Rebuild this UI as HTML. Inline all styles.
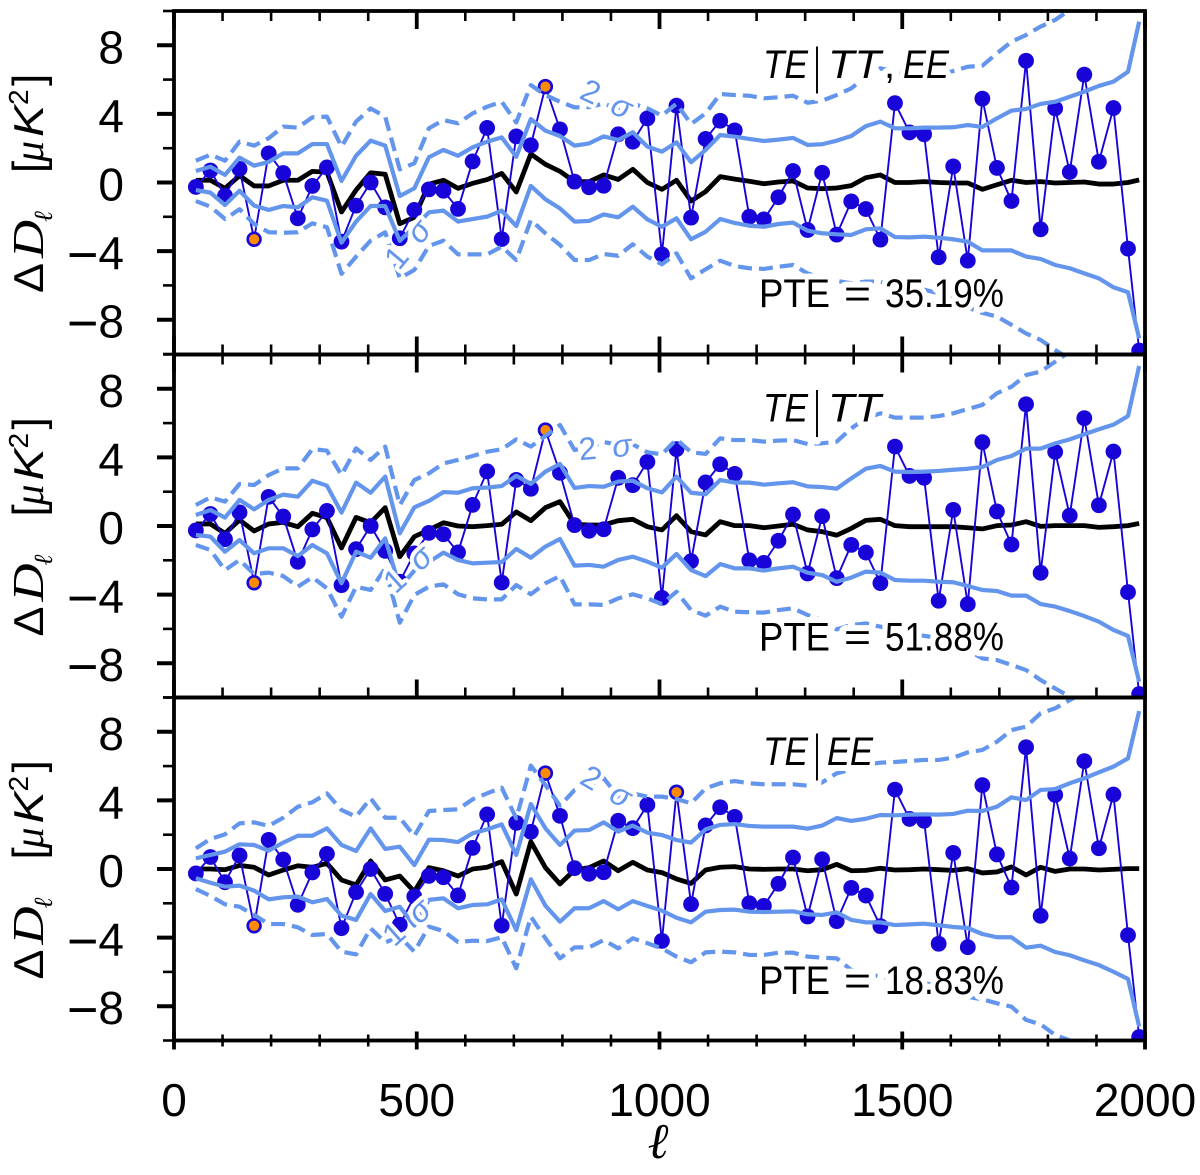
<!DOCTYPE html>
<html lang="en">
<head>
<meta charset="utf-8">
<title>TE residuals</title>
<style>
html,body{margin:0;padding:0;background:#fff;}
svg{display:block;}
text{font-family:"Liberation Sans","DejaVu Sans",sans-serif;fill:#000;}
.tick{font-size:46px;}
.note{font-size:40px;paint-order:stroke;stroke:#fff;stroke-width:12px;stroke-linejoin:round;}
.it{font-style:italic;}
.sig{font-size:32px;fill:#6495ed;paint-order:stroke;stroke:#fff;stroke-width:8px;stroke-linejoin:round;}
.yt{font-size:42px;}
.br{font-size:44px;}
.serif{font-family:"Liberation Serif","DejaVu Serif",serif;font-style:italic;}
</style>
</head>
<body>
<svg id="chart" xmlns="http://www.w3.org/2000/svg" width="1200" height="1175" viewBox="0 0 1200 1175">
<rect x="0" y="0" width="1200" height="1175" fill="#fff"/>
<defs>
<clipPath id="clip0"><rect x="174" y="11" width="971" height="343"/></clipPath>
<clipPath id="clip1"><rect x="174" y="354.5" width="971" height="343"/></clipPath>
<clipPath id="clip2"><rect x="174" y="697.5" width="971" height="343"/></clipPath>
</defs>
<g id="marks"></g>
<g id="annotations">
  <g>
    <text class="note it" x="763" y="78" textLength="45" lengthAdjust="spacingAndGlyphs">TE</text>
    <text class="note" x="817" y="82" text-anchor="middle" transform="translate(817 78) scale(0.6 1.25) translate(-817 -78)">|</text>
    <text class="note it" x="828" y="78" textLength="53" lengthAdjust="spacingAndGlyphs">TT</text>
    <text class="note" x="884" y="78">,</text>
    <text class="note it" x="903" y="78" textLength="46" lengthAdjust="spacingAndGlyphs">EE</text>
  </g>
  <g>
    <text class="note it" x="763" y="421.5" textLength="45" lengthAdjust="spacingAndGlyphs">TE</text>
    <text class="note" x="817" y="425.5" text-anchor="middle" transform="translate(817 421.5) scale(0.6 1.25) translate(-817 -421.5)">|</text>
    <text class="note it" x="828" y="421.5" textLength="53" lengthAdjust="spacingAndGlyphs">TT</text>
  </g>
  <g>
    <text class="note it" x="763" y="765" textLength="45" lengthAdjust="spacingAndGlyphs">TE</text>
    <text class="note" x="817" y="769" text-anchor="middle" transform="translate(817 765) scale(0.6 1.25) translate(-817 -765)">|</text>
    <text class="note it" x="827" y="765" textLength="46" lengthAdjust="spacingAndGlyphs">EE</text>
  </g>
  <g>
    <text class="note" x="759" y="307" textLength="71" lengthAdjust="spacingAndGlyphs">PTE</text>
    <text class="note" x="844" y="307" textLength="27" lengthAdjust="spacingAndGlyphs">=</text>
    <text class="note" x="885" y="307" textLength="119" lengthAdjust="spacingAndGlyphs">35.19%</text>
  </g>
  <g>
    <text class="note" x="759" y="650.5" textLength="71" lengthAdjust="spacingAndGlyphs">PTE</text>
    <text class="note" x="844" y="650.5" textLength="27" lengthAdjust="spacingAndGlyphs">=</text>
    <text class="note" x="885" y="650.5" textLength="119" lengthAdjust="spacingAndGlyphs">51.88%</text>
  </g>
  <g>
    <text class="note" x="759" y="994" textLength="71" lengthAdjust="spacingAndGlyphs">PTE</text>
    <text class="note" x="844" y="994" textLength="27" lengthAdjust="spacingAndGlyphs">=</text>
    <text class="note" x="885" y="994" textLength="119" lengthAdjust="spacingAndGlyphs">18.83%</text>
  </g>
  <text class="sig" text-anchor="middle" transform="translate(416 251) rotate(-50)">1 <tspan class="it" dx="7">σ</tspan></text>
  <text class="sig" text-anchor="middle" transform="translate(415 577) rotate(-42)">1 <tspan class="it" dx="7">σ</tspan></text>
  <text class="sig" text-anchor="middle" transform="translate(414 930) rotate(-42)">1 <tspan class="it" dx="7">σ</tspan></text>
  <text class="sig" text-anchor="middle" transform="translate(602 109) rotate(25)">2 <tspan class="it" dx="7">σ</tspan></text>
  <text class="sig" text-anchor="middle" transform="translate(606 458) rotate(-5)">2 <tspan class="it" dx="7">σ</tspan></text>
  <text class="sig" text-anchor="middle" transform="translate(601 796) rotate(30)">2 <tspan class="it" dx="7">σ</tspan></text>
</g>
<g id="axes"></g>
<g transform="translate(43 293) rotate(-90)">
  <text class="yt" x="0" y="0" textLength="30" lengthAdjust="spacingAndGlyphs">Δ</text>
  <text class="serif" x="35" y="0" font-size="44" textLength="38" lengthAdjust="spacingAndGlyphs">D</text>
  <text class="serif" x="71" y="9" font-size="26">ℓ</text>
  <text class="br" x="120" y="0">[</text>
  <text class="serif" x="131" y="0" font-size="42">μ</text>
  <text class="yt it" x="156" y="0" textLength="32" lengthAdjust="spacingAndGlyphs">K</text>
  <text x="188" y="-15" font-size="28">2</text>
  <text class="br" x="207" y="0">]</text>
</g>
<g transform="translate(43 636.5) rotate(-90)">
  <text class="yt" x="0" y="0" textLength="30" lengthAdjust="spacingAndGlyphs">Δ</text>
  <text class="serif" x="35" y="0" font-size="44" textLength="38" lengthAdjust="spacingAndGlyphs">D</text>
  <text class="serif" x="71" y="9" font-size="26">ℓ</text>
  <text class="br" x="120" y="0">[</text>
  <text class="serif" x="131" y="0" font-size="42">μ</text>
  <text class="yt it" x="156" y="0" textLength="32" lengthAdjust="spacingAndGlyphs">K</text>
  <text x="188" y="-15" font-size="28">2</text>
  <text class="br" x="207" y="0">]</text>
</g>
<g transform="translate(43 979.5) rotate(-90)">
  <text class="yt" x="0" y="0" textLength="30" lengthAdjust="spacingAndGlyphs">Δ</text>
  <text class="serif" x="35" y="0" font-size="44" textLength="38" lengthAdjust="spacingAndGlyphs">D</text>
  <text class="serif" x="71" y="9" font-size="26">ℓ</text>
  <text class="br" x="120" y="0">[</text>
  <text class="serif" x="131" y="0" font-size="42">μ</text>
  <text class="yt it" x="156" y="0" textLength="32" lengthAdjust="spacingAndGlyphs">K</text>
  <text x="188" y="-15" font-size="28">2</text>
  <text class="br" x="207" y="0">]</text>
</g>
<text class="serif" x="658" y="1158" font-size="50" text-anchor="middle">ℓ</text>
</svg>
<script>
const ell = [45,75,105,135,165,195,225,255,285,315,345,375,405,435,465,495,525,555,585,615,645,675,705,735,765,795,825,855,885,915,945,975,1005,1035,1065,1095,1125,1155,1185,1215,1245,1275,1305,1335,1365,1395,1425,1455,1485,1515,1545,1575,1605,1635,1665,1695,1725,1755,1785,1815,1845,1875,1905,1935,1965,1988];
const residuals = [-0.26,0.7,-0.77,0.79,-3.31,1.7,0.55,-2.09,-0.2,0.88,-3.45,-1.35,0,-1.45,-3.25,-1.6,-0.4,-0.48,-1.54,1.23,3.18,-3.3,2.69,2.17,5.59,3.1,0.05,-0.28,-0.19,2.81,2.38,3.74,-4.19,4.48,-2.05,2.54,3.6,3.04,-2,-2.15,-0.86,0.67,-2.77,0.57,-3.04,-1.1,-1.55,-3.33,4.63,2.92,2.81,-4.36,0.94,-4.56,4.89,0.85,-1.08,7.1,-2.73,4.32,0.61,6.29,1.21,4.34,-3.86,-9.8];

const panel1Mean = [0.13,0.13,-0.34,0.4,-0.2,-0.2,0.13,0.13,0.65,0.6,-1.72,-0.44,0.57,0.48,-2.4,-2.03,-0.1,0.13,-0.34,-0.05,0.17,0.53,-0.55,1.66,1.06,0.65,0.05,0.05,0.44,0.18,0.77,0,-0.4,0.13,-1.08,-0.53,0.34,0.2,0.07,-0.07,0.03,0.09,-0.32,-0.36,-0.32,-0.18,0.28,0.44,0,0,0.05,0,-0.03,-0.03,-0.4,-0.13,0.13,0,0.05,-0.03,0,0.03,-0.09,-0.09,0,0.15];
const panel1Upper1 = [0.67,0.92,0.44,1.45,0.98,1.2,1.7,1.7,2.24,2.24,0.09,1.56,2.44,2.15,-0.79,-0.34,1.47,1.9,1.56,2.05,2.38,2.63,1.5,3.7,3.02,2.71,2.15,2.28,2.69,2.48,2.93,2.09,1.8,2.34,1.18,1.9,2.77,2.67,2.54,2.42,2.5,2.6,2.19,2.23,2.44,2.71,3.29,3.55,3.16,3.16,3.2,3.2,3.22,3.35,3.24,3.74,4.19,4.29,4.58,4.71,5,5.3,5.63,5.88,6.46,9.38];
const panel1Lower1 = [-0.44,-0.59,-1.31,-0.48,-1.35,-1.6,-1.37,-1.45,-0.86,-1.06,-3.51,-2.28,-1.37,-1.37,-3.4,-2.6,-1.74,-1.64,-2.28,-2.13,-1.99,-1.64,-2.54,-0.2,-0.98,-1.51,-2.28,-2.24,-1.86,-2.03,-1.41,-2.15,-2.58,-2.09,-3.31,-2.87,-2.13,-2.36,-2.52,-2.58,-2.42,-2.34,-2.81,-2.96,-3.02,-3.06,-2.73,-2.67,-3.18,-3.2,-3.16,-3.22,-3.31,-3.45,-3.96,-3.96,-3.96,-4.32,-4.46,-4.81,-5,-5.3,-5.59,-6.11,-6.4,-9.09];
const panel1Upper2 = [1.27,1.62,1.27,2.38,2.15,2.58,3.26,3.2,3.8,3.84,2.09,3.55,4.32,3.84,0.77,1.12,3.16,3.64,3.45,4.03,4.42,4.71,3.5,5.68,5.1,4.71,4.38,4.4,4.6,4.3,4.6,4.32,3.9,4.6,3.41,4.03,5.16,5.1,5.06,4.91,4.97,5.06,4.65,4.77,5.1,5.49,6.17,6.66,6.46,6.27,6.17,6.27,6.5,6.75,6.81,7.53,8.21,8.6,9.09,9.48,10.06,10.6,11,11.4,12,13];
const panel1Lower2 = [-1.08,-1.41,-2.13,-1.56,-2.42,-2.9,-2.93,-2.9,-2.38,-2.61,-5.33,-4.32,-3.39,-2.9,-5.58,-5.1,-3.7,-3.39,-4.19,-4.19,-4.19,-3.74,-4.52,-2.19,-2.96,-3.64,-4.52,-4.52,-4.17,-4.27,-3.6,-4.32,-4.77,-4.13,-5.59,-5.06,-4.56,-4.87,-5,-5.04,-4.91,-4.81,-5.3,-5.6,-5.74,-5.88,-5.78,-5.78,-6.05,-6.15,-6.25,-6.46,-6.75,-7.3,-7.6,-7.82,-8.3,-8.8,-9.18,-9.77,-10.3,-10.8,-11.3,-11.9,-12.5,-13];

const panel2Mean = [0.12,0.12,-0.43,0.35,-0.29,0.12,0.21,-0.04,0.74,0.49,-1.28,0.5,0.19,1.07,-1.79,-0.62,-0.23,0.19,0,-0.04,0.02,0.1,0.82,0.31,1.07,1.42,0.1,0.06,0.06,0.31,0.39,-0.04,-0.23,0.6,-0.33,-0.52,0.25,0.02,0.02,-0.1,0,0.1,-0.23,-0.33,-0.54,-0.14,0.33,0.39,0.02,-0.04,-0.04,-0.04,-0.04,-0.1,-0.17,0.02,0.06,0.25,-0.02,0.02,0.02,0.02,-0.08,-0.04,0.02,0.15];
const panel2Upper1 = [0.64,0.93,0.49,1.52,0.97,1.52,1.83,1.71,2.64,2.35,0.78,2.53,1.94,2.88,-0.43,1.09,1.46,1.98,1.94,2.2,2.24,2.33,2.93,2.45,3.17,3.62,2.22,2.33,2.29,2.59,2.64,2.2,1.96,2.88,1.94,1.85,2.68,2.53,2.53,2.41,2.49,2.55,2.31,2.27,2.18,2.78,3.34,3.5,3.17,3.15,3.17,3.21,3.28,3.34,3.44,3.85,4.08,4.51,4.51,4.82,5.05,5.35,5.64,5.91,6.41,9.33];
const panel2Lower1 = [-0.52,-0.62,-1.5,-0.82,-1.59,-1.3,-1.3,-1.75,-1.11,-1.59,-3.34,-1.5,-1.85,-0.72,-3.6,-2.6,-2.1,-1.55,-1.98,-2.18,-2.14,-2.1,-1.34,-1.85,-1.2,-0.76,-2.31,-2.27,-2.37,-1.98,-1.79,-2.08,-2.43,-1.63,-2.57,-2.92,-2.22,-2.47,-2.47,-2.6,-2.47,-2.37,-2.72,-2.86,-3.25,-3.01,-2.66,-2.72,-3.15,-3.19,-3.19,-3.25,-3.28,-3.5,-3.73,-3.79,-4.06,-4.06,-4.55,-4.7,-4.96,-5.25,-5.58,-6.06,-6.41,-9.08];
const panel2Upper2 = [1.22,1.67,1.42,2.45,2.39,2.97,3.36,3.36,4.49,4.39,2.97,4.53,3.85,4.63,1.22,2.68,3.07,3.65,3.85,4.08,4.33,4.47,5.05,4.63,5.25,5.89,4.43,4.6,4.9,4.72,4.76,4.3,4.18,5.05,4.3,4.2,5.11,5.01,5.01,4.92,4.98,5.01,4.78,4.82,4.92,5.69,6.28,6.57,6.32,6.32,6.32,6.41,6.57,6.82,7.06,7.74,8.12,8.8,9,9.58,10.17,10.7,11.2,11.7,12.2,13];
const panel2Lower2 = [-1.11,-1.4,-2.57,-1.98,-2.8,-2.72,-2.92,-3.54,-2.99,-3.63,-5.29,-3.54,-3.73,-2.47,-5.64,-4.02,-3.54,-3.4,-3.98,-4.22,-4.28,-4.28,-3.44,-3.98,-3.34,-2.92,-4.57,-4.57,-4.6,-4.22,-3.98,-4.22,-4.55,-3.83,-4.9,-5.23,-4.7,-5,-5.03,-5.05,-4.9,-4.8,-5.19,-5.5,-6.03,-5.77,-5.68,-5.87,-6.16,-6.36,-6.4,-6.55,-6.85,-7.25,-7.72,-7.82,-8.1,-8.4,-8.98,-9.47,-9.95,-10.5,-11,-11.6,-12.2,-13];

const panel3Mean = [0,0,-0.04,0.21,0.1,-0.35,-0.06,0.19,0.1,0.33,-0.64,-0.93,0.47,-0.64,-0.41,-1.32,0.08,-0.1,-0.41,0,0.1,0.43,-1.46,1.59,0.08,-0.87,-0.06,0.08,0.47,-0.1,0.39,-0.06,-0.21,-0.58,-0.84,-0.06,0.1,0.14,0,-0.02,0,0,-0.1,-0.04,0.27,-0.1,-0.08,0.04,-0.06,-0.04,0,-0.04,-0.08,0.02,-0.23,-0.17,0.12,-0.35,0.1,-0.14,0,0,-0.06,-0.02,0.02,0.02];
const panel3Upper1 = [0.62,0.82,1.01,1.44,1.4,1.07,1.54,1.94,1.94,2.37,1.4,1.05,2.37,1.17,1.3,0.23,1.71,1.69,1.57,2.08,2.31,2.6,0.82,3.79,2.37,1.4,2.24,2.27,2.72,2.18,2.53,2.12,1.98,1.69,1.54,2.31,2.57,2.62,2.51,2.47,2.47,2.47,2.35,2.53,2.97,2.8,2.93,3.15,3.13,3.17,3.19,3.17,3.21,3.4,3.38,3.63,4.18,4.02,4.61,4.66,5,5.29,5.64,5.97,6.45,9.21];
const panel3Lower1 = [-0.54,-0.8,-1.03,-0.97,-1.26,-1.77,-1.65,-1.61,-1.94,-1.75,-2.72,-2.97,-1.46,-2.45,-2.2,-3.3,-1.8,-1.71,-2.29,-2.1,-2.06,-1.77,-3.56,-0.6,-2.14,-3.07,-2.29,-2.29,-1.87,-2.35,-1.87,-2.16,-2.43,-2.84,-3.11,-2.49,-2.39,-2.37,-2.49,-2.51,-2.49,-2.47,-2.64,-2.68,-2.53,-2.97,-3.11,-3.11,-3.27,-3.23,-3.19,-3.28,-3.38,-3.44,-3.79,-3.98,-3.98,-4.59,-4.47,-4.84,-5.03,-5.33,-5.6,-5.99,-6.41,-9.19];
const panel3Upper2 = [1.2,1.75,2.02,2.66,2.72,2.51,2.99,3.63,3.89,4.41,3.44,3.05,4.12,2.99,2.99,1.92,3.38,3.44,3.48,4.06,4.41,4.74,2.95,6.03,4.9,3.69,4.6,4.9,5.3,4.22,4.4,4.22,4.22,4.08,3.83,4.7,5,5.13,5,4.94,4.94,4.94,4.86,5.05,5.58,5.8,6.1,6.2,6.24,6.3,6.36,6.36,6.49,6.8,6.94,7.42,8.1,8.3,9.08,9.37,9.85,10.3,10.8,11.3,12,13];
const panel3Lower2 = [-1.17,-1.57,-2.06,-2.2,-2.68,-3.21,-3.21,-3.4,-3.85,-3.79,-4.82,-4.98,-3.46,-4.28,-3.95,-4.82,-3.36,-3.62,-4.26,-4.18,-4.2,-3.98,-5.79,-2.78,-4.04,-5.21,-4.57,-4.57,-4.14,-4.63,-4.04,-4.33,-4.63,-5.11,-5.44,-4.86,-4.82,-4.86,-5.01,-5.01,-4.88,-4.88,-5.11,-5.17,-5.21,-5.89,-6.08,-6.28,-6.38,-6.47,-6.67,-6.77,-7.06,-7.45,-7.6,-7.83,-8.03,-8.8,-9.06,-9.68,-10,-10.5,-11,-11.6,-12.2,-13];

const panelHighlights1 = [4,24];
const panelHighlights2 = [4,24];
const panelHighlights3 = [4,24,33];

const yMajorTicks = [8,4,0,-4,-8];
const yMajorLabels = ["8","4","0","−4","−8"];
const yMinorTicks = [10,6,2,-2,-6,-10];
const xMajorTicks = [0,500,1000,1500,2000];
const xMajorLabels = ["0","500","1000","1500","2000"];
const xMinorTicks = [100,200,300,400,600,700,800,900,1100,1200,1300,1400,1600,1700,1800,1900];

const NS = 'http://www.w3.org/2000/svg';
const marksRoot = document.getElementById('marks');
const axesRoot = document.getElementById('axes');
const PLOT_LEFT = 174, PLOT_RIGHT = 1145, PX_PER_ELL = 0.4855, PX_PER_UNIT = 17.15;
const zeros = [182.5, 526, 869];
const tops = [11, 354.5, 697.5];
const bottoms = [354.5, 697.5, 1040.5];

function xScale(l){ return PLOT_LEFT + l * PX_PER_ELL; }
function yScale(p, v){ return zeros[p] - v * PX_PER_UNIT; }
function make(tag, parent, attrs){
  const el = document.createElementNS(NS, tag);
  for (const k in attrs) el.setAttribute(k, attrs[k]);
  parent.appendChild(el);
  return el;
}
function linePoints(p, vals){
  return vals.map((v, i) => xScale(ell[i]).toFixed(2) + ',' + yScale(p, v).toFixed(2)).join(' ');
}
function drawSeries(parent, p, vals, name, color, width, dash){
  const attrs = {points: linePoints(p, vals), fill: 'none', stroke: color, 'stroke-width': width, 'stroke-linejoin': 'round'};
  if (dash) attrs['stroke-dasharray'] = dash;
  const el = make('polyline', parent, attrs);
  
  
}
function drawTick(parent, x1, y1, x2, y2, w, name){
  const el = make('line', parent, {x1: x1, y1: y1, x2: x2, y2: y2, stroke: '#000', 'stroke-width': w});
  
  
}
function drawLabel(parent, x, y, str, anchor, name){
  const el = make('text', parent, {x: x, y: y, 'class': 'tick', 'text-anchor': anchor});
  if (str.charAt(0) === '−') {
    const m = make('tspan', el, {'font-size': 54, dy: 4});
    m.textContent = str.charAt(0);
    const d = make('tspan', el, {dy: -4});
    d.textContent = str.slice(1);
  } else {
    el.textContent = str;
  }
  
  
}

const CORN = '#6495ed', BLUE = '#1804d8', ORANGE = '#ff8c00';
const panelSeries = [
  {mean: panel1Mean, up1: panel1Upper1, lo1: panel1Lower1, up2: panel1Upper2, lo2: panel1Lower2, hi: panelHighlights1},
  {mean: panel2Mean, up1: panel2Upper1, lo1: panel2Lower1, up2: panel2Upper2, lo2: panel2Lower2, hi: panelHighlights2},
  {mean: panel3Mean, up1: panel3Upper1, lo1: panel3Lower1, up2: panel3Upper2, lo2: panel3Lower2, hi: panelHighlights3}
];

panelSeries.forEach((s, p) => {
  const g = make('g', marksRoot, {'clip-path': 'url(#clip' + p + ')'});
  
  
  drawSeries(g, p, s.mean, 'mean-shift-line', '#000', 4.8, null);
  drawSeries(g, p, residuals, 'residual-line', BLUE, 1.9, null);
  residuals.forEach((v, i) => {
    const isHi = s.hi.indexOf(i) >= 0;
    const c = make('circle', g, {
      cx: xScale(ell[i]).toFixed(2),
      cy: yScale(p, v).toFixed(2),
      r: isHi ? 6.4 : 7.9,
      fill: isHi ? ORANGE : BLUE,
      stroke: isHi ? BLUE : 'none',
      'stroke-width': isHi ? 2.6 : 0
    });
    
    
  });
  drawSeries(g, p, s.up1, 'one-sigma-upper', CORN, 4.2, null);
  drawSeries(g, p, s.lo1, 'one-sigma-lower', CORN, 4.2, null);
  drawSeries(g, p, s.up2, 'two-sigma-upper', CORN, 4.2, '14 7');
  drawSeries(g, p, s.lo2, 'two-sigma-lower', CORN, 4.2, '14 7');
});

function drawAxes(p){
  const g = make('g', axesRoot, {});
  
  
  const top = tops[p], bot = bottoms[p];
  yMajorTicks.forEach((v, i) => {
    const y = yScale(p, v);
    drawTick(g, PLOT_LEFT - 17, y, PLOT_LEFT, y, 4, 'y-major-tick');
    drawLabel(g, 124, y + 18, yMajorLabels[i], 'end', 'y-tick-label');
  });
  yMinorTicks.forEach(v => {
    const y = yScale(p, v);
    drawTick(g, PLOT_LEFT - 11, y, PLOT_LEFT, y, 2.6, 'y-minor-tick');
  });
  xMajorTicks.forEach(v => {
    const x = xScale(v);
    if (p < 2) drawTick(g, x, top, x, top + 18, 3.8, 'x-major-tick-top');
    if (p < 2) drawTick(g, x, bot - 18, x, bot, 3.8, 'x-major-tick-bottom');
    if (p === 2) drawTick(g, x, bot - 9, x, bot + 9, 3.8, 'x-major-tick-bottom');
  });
  xMinorTicks.forEach(v => {
    const x = xScale(v);
    if (p < 2) drawTick(g, x, top, x, top + 10, 2.6, 'x-minor-tick-top');
    if (p < 2) drawTick(g, x, bot - 10, x, bot, 2.6, 'x-minor-tick-bottom');
    if (p === 2) drawTick(g, x, bot - 6, x, bot + 6, 2.6, 'x-minor-tick-bottom');
  });
  const frame = make('rect', g, {x: PLOT_LEFT, y: top, width: PLOT_RIGHT - PLOT_LEFT, height: bot - top, fill: 'none', stroke: '#000', 'stroke-width': 3.8});
  
  
  if (p === 2) {
    xMajorTicks.forEach((v, i) => {
      drawLabel(g, xScale(v), 1116, xMajorLabels[i], 'middle', 'x-tick-label');
    });
  }
}
drawAxes(0);
drawAxes(1);
drawAxes(2);
</script>
</body>
</html>
